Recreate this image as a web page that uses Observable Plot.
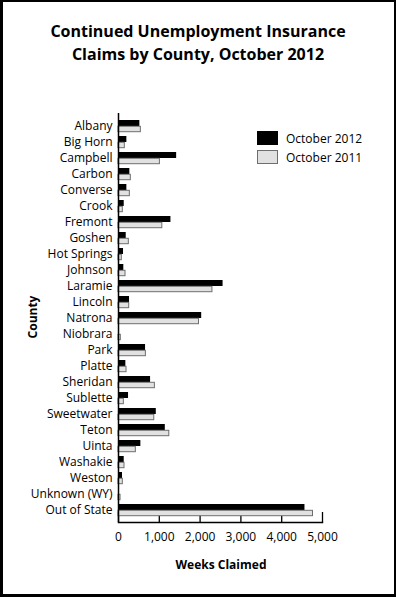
<!DOCTYPE html>
<html><head><meta charset="utf-8">
<script src="https://cdn.jsdelivr.net/npm/d3@7"></script>
<script src="https://cdn.jsdelivr.net/npm/@observablehq/plot@0.6"></script>
<style>
body{margin:0;background:#fff;}
#wrap{position:relative;width:396px;height:597px;overflow:hidden;font-family:"Open Sans",sans-serif;color:#000;background:#fff;}
#chart{position:absolute;left:0;top:0;}
#border{position:absolute;left:0;top:0;width:396px;height:597px;box-sizing:border-box;border-style:solid;border-color:#000;border-width:2px 2px 3px 3px;pointer-events:none;}
#title{position:absolute;top:20px;left:0;width:396px;text-align:center;font-weight:bold;font-size:16px;line-height:23px;}
#xlabel{position:absolute;top:556px;left:121px;width:200px;text-align:center;font-weight:bold;font-size:12px;}
#ylabel{position:absolute;left:32px;top:317px;transform:translate(-50%,-50%) rotate(-90deg);font-weight:bold;font-size:12px;white-space:nowrap;}
#legend{position:absolute;left:257px;top:131px;font-size:12px;}
.li{display:flex;align-items:center;height:14px;margin-bottom:5px;}
.sw{width:21px;height:14px;box-sizing:border-box;margin-right:8px;}
</style></head>
<body>
<div id="wrap">
  <div id="chart"></div>
  <div id="title">Continued Unemployment Insurance<br>Claims by County, October 2012</div>
  <div id="ylabel">County</div>
  <div id="xlabel">Weeks Claimed</div>
  <div id="legend"></div>
  <div id="border"></div>
</div>
<script>
const counties = ["Albany","Big Horn","Campbell","Carbon","Converse","Crook","Fremont","Goshen","Hot Springs","Johnson","Laramie","Lincoln","Natrona","Niobrara","Park","Platte","Sheridan","Sublette","Sweetwater","Teton","Uinta","Washakie","Weston","Unknown (WY)","Out of State"];
const oct2012 = [523,205,1425,278,205,140,1285,189,123,130,2563,270,2039,25,663,180,786,246,926,1147,548,140,98,15,4570];
const oct2011 = [548,155,1015,302,278,106,1074,253,81,172,2302,262,1973,57,671,197,892,131,877,1245,425,147,106,50,4767];
const seriesNames = ["October 2012","October 2011"];
const xTicks = [0,1000,2000,3000,4000,5000];

const colors = {fill2012:"#000000", fill2011:"#e1e1e1", stroke2011:"#6e6e6e"};

const rows2012 = counties.map((c,i)=>({county:c, value:oct2012[i]}));
const rows2011 = counties.map((c,i)=>({county:c, value:oct2011[i]}));

const chart = Plot.plot({
  width: 396,
  height: 597,
  marginLeft: 118,
  marginRight: 74,
  marginTop: 113,
  marginBottom: 75,
  style: {fontFamily: '"Open Sans", sans-serif', fontSize: "12px", color: "#000", background: "transparent", overflow: "visible"},
  x: {domain: [0, 5000], axis: null, label: null},
  y: {domain: counties, paddingInner: 0.26, paddingOuter: 0.09, axis: null, label: null},
  marks: [
    Plot.axisX(xTicks, {anchor: "bottom", tickSize: -10, tickFormat: () => "", label: null, stroke: "#000", strokeWidth: 1.3}),
    Plot.barX(rows2012, {y: "county", x: "value", fill: colors.fill2012, insetBottom: 6}),
    Plot.barX(rows2011, {y: "county", x: "value", fill: colors.fill2011, stroke: colors.stroke2011, strokeWidth: 1, insetTop: 6.3, insetBottom: 0.3}),
    Plot.axisX(xTicks, {anchor: "bottom", tickSize: 0, tickPadding: 10, tickFormat: d3.format(","), label: null, fontSize: 12, fill: "#000"}),
    Plot.axisY(counties, {anchor: "left", tickSize: 0, tickPadding: 6, label: null, fontSize: 12, fill: "#000"}),
    Plot.ruleX([0], {stroke: "#000", strokeWidth: 1.5}),
    Plot.frame({anchor: "bottom", stroke: "#000", strokeWidth: 1.5})
  ]
});
document.getElementById("chart").appendChild(chart);

const legend = document.getElementById("legend");
seriesNames.forEach((name, i) => {
  const li = document.createElement("div");
  li.className = "li";
  const sw = document.createElement("div");
  sw.className = "sw";
  sw.style.background = i === 0 ? colors.fill2012 : colors.fill2011;
  sw.style.border = i === 0 ? "1px solid #000" : "1px solid " + colors.stroke2011;
  const t = document.createElement("span");
  t.textContent = name;
  li.appendChild(sw); li.appendChild(t);
  legend.appendChild(li);
});
</script>
</body></html>
